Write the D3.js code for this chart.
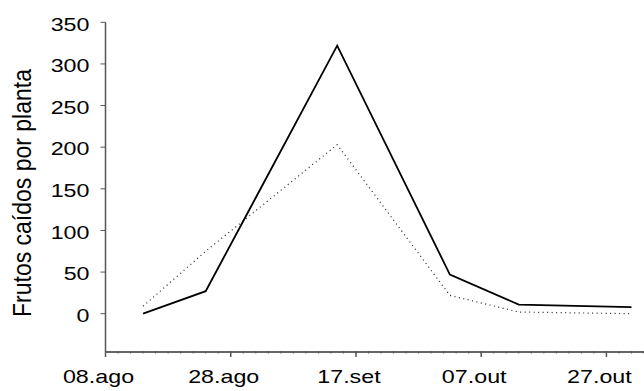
<!DOCTYPE html>
<html>
<head>
<meta charset="utf-8">
<script src="https://cdn.jsdelivr.net/npm/d3@7"></script>
<style>
  body { margin: 0; background: #fff; }
  svg { display: block; }
  text { font-family: "Liberation Sans", Arial, sans-serif; fill: #000; }
</style>
</head>
<body>
<div id="vis"></div>
<script>
// dates of sampling
var dates = ["2001-08-14", "2001-08-24", "2001-09-14", "2001-10-02", "2001-10-13", "2001-10-31"];
// fallen fruits per plant, two series
var seriesSolid = [0, 27, 322, 47, 11, 8];
var seriesDotted = [9, 75, 203, 22, 2, 0];
var yTicks = [0, 50, 100, 150, 200, 250, 300, 350];
var xTickLabels = ["08.ago", "28.ago", "17.set", "07.out", "27.out"];
var yLabel = "Frutos caídos por planta";

var width = 644, height = 391;
var stretch = 1.33; // text in the original is wider than tall

var parse = d3.utcParse("%Y-%m-%d");
var svg = d3.select("#vis").append("svg").attr("width", width).attr("height", height);

var start = parse("2001-08-08");
var x = d3.scaleUtc().domain([start, d3.utcDay.offset(start, 86)]).range([105.5, 644]);
var y = d3.scaleLinear().domain([-46, 350]).range([352, 22.3]);

var majorTicks = xTickLabels.map(function (d, i) { return d3.utcDay.offset(start, i * 20); });
var minorTicks = d3.range(0, 87, 2).map(function (i) { return d3.utcDay.offset(start, i); });

// y axis
var yAxis = svg.append("g").attr("transform", "translate(105.5,0)");
yAxis.append("line").attr("y1", y(350)).attr("y2", y(-46)).attr("stroke", "#555").attr("stroke-width", 1.5);
yAxis.selectAll(".yt").data(yTicks).enter().append("line")
  .attr("x1", -5).attr("x2", 0)
  .attr("y1", function (d) { return y(d); }).attr("y2", function (d) { return y(d); })
  .attr("stroke", "#555").attr("stroke-width", 1);
yAxis.selectAll(".yl").data(yTicks).enter().append("text")
  .attr("transform", function (d) { return "translate(-16," + (y(d) + 8.3) + ") scale(" + stretch + ",1)"; })
  .attr("text-anchor", "end")
  .style("font-size", "17.5px")
  .text(function (d) { return d; });

// x axis
var xAxis = svg.append("g").attr("transform", "translate(0," + y(-46) + ")");
xAxis.append("line").attr("x1", x.range()[0]).attr("x2", width).attr("stroke", "#333").attr("stroke-width", 1.5);
xAxis.selectAll(".mt").data(minorTicks).enter().append("line")
  .attr("x1", function (d) { return x(d); }).attr("x2", function (d) { return x(d); })
  .attr("y1", -1).attr("y2", 1.5)
  .attr("stroke", "#555").attr("stroke-width", 1);
xAxis.selectAll(".xt").data(majorTicks).enter().append("line")
  .attr("x1", function (d) { return x(d); }).attr("x2", function (d) { return x(d); })
  .attr("y1", 0).attr("y2", 5)
  .attr("stroke", "#555").attr("stroke-width", 1.5);
xAxis.selectAll(".xl").data(majorTicks).enter().append("text")
  .attr("transform", function (d) { return "translate(" + (x(d) - 7) + ",31) scale(" + stretch + ",1)"; })
  .attr("text-anchor", "middle")
  .style("font-size", "17.5px")
  .text(function (d, i) { return xTickLabels[i]; });

// axis title
svg.append("text")
  .attr("transform", "translate(31,193) scale(1.15,1) rotate(-90)")
  .attr("text-anchor", "middle")
  .style("font-size", "23px")
  .text(yLabel);

// lines
var line = d3.line()
  .x(function (d) { return x(parse(d.date)); })
  .y(function (d) { return y(d.v); });

var solidData = dates.map(function (d, i) { return { date: d, v: seriesSolid[i] }; });
var dottedData = dates.map(function (d, i) { return { date: d, v: seriesDotted[i] }; });

svg.append("path").datum(dottedData).attr("d", line)
  .attr("fill", "none").attr("stroke", "#222").attr("stroke-width", 1.2)
  .attr("stroke-dasharray", "1,3.5");
svg.append("path").datum(solidData).attr("d", line)
  .attr("fill", "none").attr("stroke", "#000").attr("stroke-width", 1.8)
  .attr("stroke-linejoin", "miter");
</script>
</body>
</html>
